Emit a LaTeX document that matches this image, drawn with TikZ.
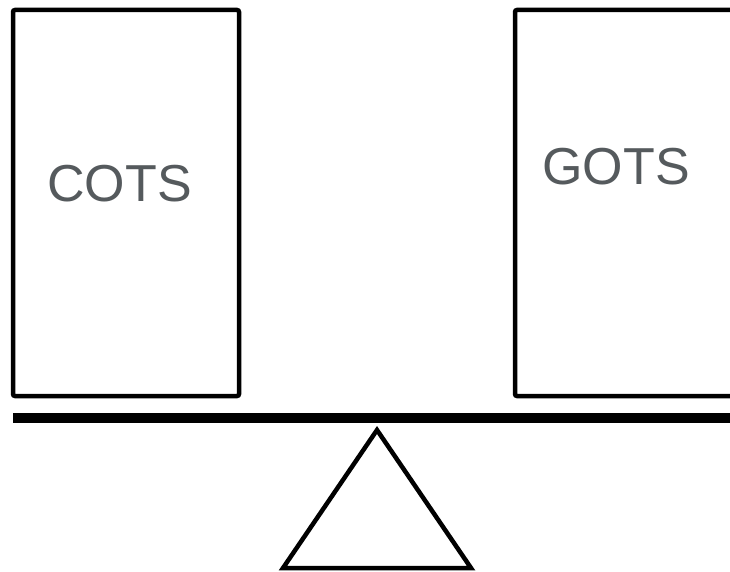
\documentclass[tikz,border=0pt]{standalone}
\usepackage{fontspec}
\setmainfont{Liberation Sans}
\definecolor{labelgray}{HTML}{555A5D}
\begin{document}
\begin{tikzpicture}[x=1pt,y=-1pt,
  boxstyle/.style={draw=black,line width=4.5pt,rounded corners=2pt},
  labelstyle/.style={text=labelgray,font=\fontsize{52}{60}\selectfont,anchor=base,inner sep=0pt}]
\useasboundingbox (0,0) rectangle (730,572);
\clip (0,0) rectangle (730,572);
\fill[white] (0,0) rectangle (730,572);
% left box
\draw[boxstyle] (13,10) rectangle (239,396);
% right box (runs off the right edge)
\draw[boxstyle] (515,10) rectangle (760,396);
\node[labelstyle] (cots) at (119.5,201) {COTS};
\node[labelstyle] (gots) at (616,185) {GOTS};
% beam
\draw[line width=10pt] (13,418) -- (740,418);
% fulcrum
\coordinate (apex) at (377,430);
\coordinate (bl) at (283,568);
\coordinate (br) at (471,568);
\draw[line width=4.5pt,line join=miter] (apex) -- (br) -- (bl) -- cycle;
\end{tikzpicture}
\end{document}
